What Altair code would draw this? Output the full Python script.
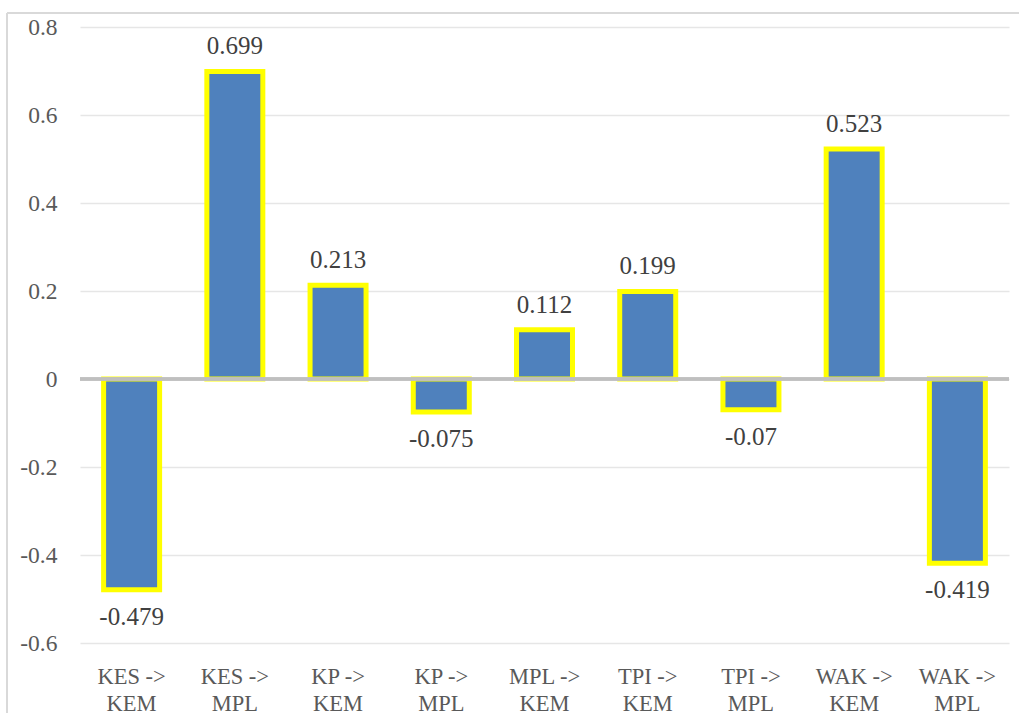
import altair as alt
import pandas as pd

categories = ["KES -> KEM", "KES -> MPL", "KP -> KEM", "KP -> MPL", "MPL -> KEM",
              "TPI -> KEM", "TPI -> MPL", "WAK -> KEM", "WAK -> MPL"]
values = [-0.479, 0.699, 0.213, -0.075, 0.112, 0.199, -0.07, 0.523, -0.419]
labels = ["-0.479", "0.699", "0.213", "-0.075", "0.112", "0.199", "-0.07", "0.523", "-0.419"]
y_ticks = [-0.6, -0.4, -0.2, 0, 0.2, 0.4, 0.6, 0.8]

df = pd.DataFrame({"cat": categories, "val": values, "lab": labels})
df["zero"] = 0.0

FONT = "Liberation Serif"
W, H = 929, 616

x = alt.X("cat:N", sort=categories, title=None,
          scale=alt.Scale(paddingInner=0.455, paddingOuter=0.2275),
          axis=alt.Axis(labelAngle=0, labelExpr="[split(datum.label, ' -> ')[0] + ' ->', split(datum.label, ' -> ')[1]]",
                        labelFont=FONT, labelFontSize=22.5, labelColor="#595959",
                        labelLineHeight=27, labelPadding=22, ticks=False, domain=False,
                        grid=False))
yscale = alt.Scale(domain=[-0.6, 0.8], nice=False)

base = alt.Chart(df)

bars = base.mark_bar(color="#4F81BD", stroke="#FFFF00", strokeWidth=5, size=56).encode(
    x=x,
    y=alt.Y("val:Q", scale=yscale, title=None,
            axis=alt.Axis(values=y_ticks,
                          labelExpr="replace(format(datum.value, '.1~f'), '\u2212', '-')",
                          labelFont=FONT, labelFontSize=23.5,
                          labelColor="#595959", labelPadding=23, ticks=False, domain=False,
                          gridColor="#E6E6E6", gridWidth=1.5)),
    y2="zero:Q",
)

zero_rule = base.mark_rule(color="#BFBFBF", strokeWidth=2.5).encode(
    y=alt.Y("zero:Q", scale=yscale), x=alt.value(0), x2=alt.value(W)
)

pos = df[df.val >= 0]
neg = df[df.val < 0]
text_pos = alt.Chart(pos).mark_text(font=FONT, fontSize=25, color="#404040", dy=-25).encode(
    x=alt.X("cat:N", sort=categories), y=alt.Y("val:Q", scale=yscale), text="lab:N")
text_neg = alt.Chart(neg).mark_text(font=FONT, fontSize=25, color="#404040", dy=27).encode(
    x=alt.X("cat:N", sort=categories), y=alt.Y("val:Q", scale=yscale), text="lab:N")

border_left = base.mark_rule(color="#D9D9D9", strokeWidth=2).encode(
    x=alt.value(-73), y=alt.value(-14), y2=alt.value(700))
border_top = base.mark_rule(color="#D9D9D9", strokeWidth=2).encode(
    x=alt.value(-73), x2=alt.value(W + 20), y=alt.value(-14))

chart = alt.layer(bars, zero_rule, text_pos, text_neg, border_left, border_top).properties(
    width=W, height=H,
    autosize=alt.AutoSizeParams(type="none"),
    padding={"left": 80, "top": 27, "right": 10, "bottom": 70},
    background="white",
).configure_view(stroke=None)

chart.save("out.html", embed_options={"renderer": "svg", "actions": False})
